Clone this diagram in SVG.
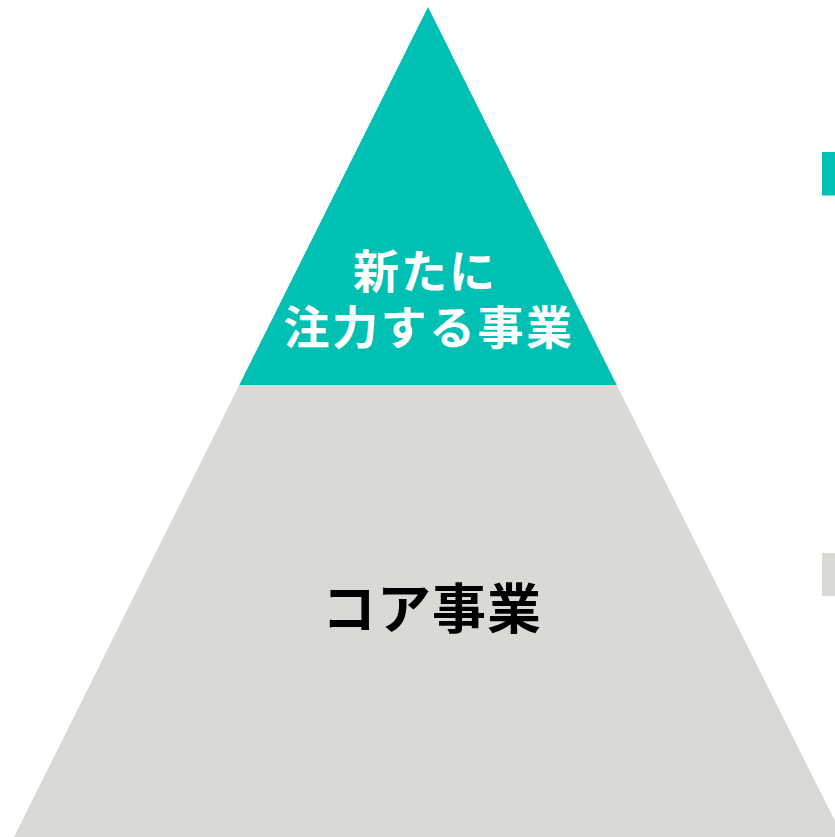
<svg xmlns="http://www.w3.org/2000/svg" width="835" height="837" viewBox="0 0 835 837">
  <style>
    .lbl { font-family: "Noto Sans CJK JP", "Noto Sans", sans-serif; font-weight: bold; text-anchor: middle; }
    .teal { fill: #00BFB3; }
    .gray { fill: #D9D9D5; }
  </style>
  <rect width="835" height="837" fill="#FFFFFF"/>
  <g id="core">
    <polygon class="gray" points="239.3,385 616.7,385 843,837 14,837"/>
    <text class="lbl" x="432" y="629" font-size="54" letter-spacing="1" fill="#000000">コア事業</text>
  </g>
  <g id="new-business">
    <polygon class="teal" points="428,7 616.7,385 239.3,385"/>
    <text class="lbl" x="425" y="288" font-size="46" letter-spacing="2" fill="#FFFFFF">新たに</text>
    <text class="lbl" x="429" y="344" font-size="46" letter-spacing="2.5" fill="#FFFFFF">注力する事業</text>
  </g>
  <g id="legend-teal">
    <rect class="teal" x="822" y="152" width="13" height="43.5"/>
  </g>
  <g id="legend-gray">
    <rect class="gray" x="822" y="553" width="13" height="43"/>
  </g>
  <g id="connectors"></g>
</svg>
